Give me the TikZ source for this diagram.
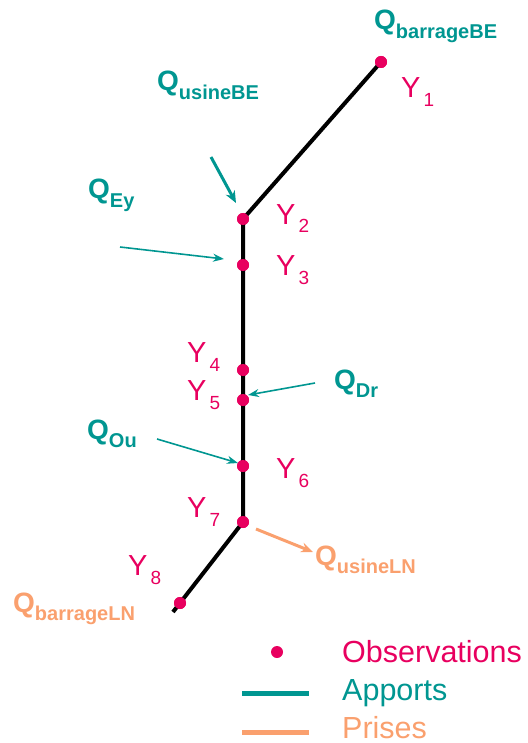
\documentclass[tikz,border=0pt]{standalone}
\usepackage{fontspec}
\setmainfont{Liberation Sans}
\usetikzlibrary{arrows.meta}
\definecolor{obs}{RGB}{232,0,95}
\definecolor{app}{RGB}{0,150,145}
\definecolor{pri}{RGB}{250,160,110}
\newcommand{\qlab}[1]{{\fontsize{28}{30}\selectfont\bfseries Q}\raisebox{-8.5pt}{\fontsize{20}{22}\selectfont\bfseries #1}}
\newcommand{\ylab}[1]{{\fontsize{29}{30}\selectfont Y}\hspace{3pt}\raisebox{-9pt}{\fontsize{19}{20}\selectfont #1}}
\begin{document}
\begin{tikzpicture}[x=1pt,y=-1pt,
  dotn/.style={circle,fill=obs,inner sep=0pt,minimum size=12pt},
  river/.style={line width=4pt,black},
  ylabn/.style={text=obs,anchor=base west,inner sep=0pt},
  qapp/.style={text=app,anchor=base west,inner sep=0pt},
  qpri/.style={text=pri,anchor=base west,inner sep=0pt},
  thinarr/.style={app,line width=1.6pt,-{Stealth[length=11pt,width=8pt]}},
  thickarr/.style={line width=3pt,-{Stealth[length=12pt,width=10pt]}},
  legtxt/.style={anchor=base west,inner sep=0pt,font=\fontsize{30.5}{32}\selectfont}]
\useasboundingbox (0,0) rectangle (527,743);
% observation points
\node[dotn] (y1) at (381,62) {};
\node[dotn] (y2) at (243,219) {};
\node[dotn] (y3) at (243,265) {};
\node[dotn] (y4) at (243,370) {};
\node[dotn] (y5) at (243,400) {};
\node[dotn] (y6) at (243,466) {};
\node[dotn] (y7) at (243,522) {};
\node[dotn] (y8) at (180,603) {};
\coordinate (lnend) at (173,612);
% river
\draw[river] (y1.center) -- (y2.center) -- (y3.center) -- (y4.center) -- (y5.center) -- (y6.center) -- (y7.center) -- (lnend);
\foreach \n in {y1,y2,y3,y4,y5,y6,y7,y8} \fill[obs] (\n) circle (6pt);
% Y labels
\node[ylabn] (ly1) at (401,98) {\ylab{1}};
\node[ylabn] (ly2) at (276,224) {\ylab{2}};
\node[ylabn] (ly3) at (276,275) {\ylab{3}};
\node[ylabn] (ly4) at (187,362) {\ylab{4}};
\node[ylabn] (ly5) at (187,400) {\ylab{5}};
\node[ylabn] (ly6) at (276,478) {\ylab{6}};
\node[ylabn] (ly7) at (187,517) {\ylab{7}};
\node[ylabn] (ly8) at (128,575) {\ylab{8}};
% Q labels
\node[qapp] (qbbe) at (374,30) {\qlab{barrageBE}};
\node[qapp] (qube) at (157,91) {\qlab{usineBE}};
\node[qapp] (qey) at (88,199) {\qlab{Ey}};
\node[qapp] (qdr) at (334,389) {\qlab{Dr}};
\node[qapp] (qou) at (87,439) {\qlab{Ou}};
\node[qpri] (quln) at (315,565) {\qlab{usineLN}};
\node[qpri] (qbln) at (13,612) {\qlab{barrageLN}};
% arrows
\coordinate (aubeS) at (211,157);
\coordinate (aubeE) at (236,203);
\draw[thickarr,app] (aubeS) -- (aubeE);
\coordinate (aeyS) at (120,247);
\coordinate (aeyE) at (224,259);
\draw[thinarr] (aeyS) -- (aeyE);
\coordinate (adrS) at (315,383);
\coordinate (adrE) at (248,395);
\draw[thinarr] (adrS) -- (adrE);
\coordinate (aouS) at (157,439);
\coordinate (aouE) at (238,463);
\draw[thinarr] (aouS) -- (aouE);
\coordinate (alnS) at (256,529);
\coordinate (alnE) at (313,552);
\draw[thickarr,pri] (alnS) -- (alnE);
% legend
\node[dotn] (legdot) at (277,652) {};
\node[legtxt,text=obs] (legobs) at (342,662) {Observations};
\coordinate (lapS) at (242,693);
\coordinate (lapE) at (309,693);
\draw[app,line width=5pt] (lapS) -- (lapE);
\node[legtxt,text=app] (legapp) at (342,700) {Apports};
\coordinate (lprS) at (242,732);
\coordinate (lprE) at (309,732);
\draw[pri,line width=5pt] (lprS) -- (lprE);
\node[legtxt,text=pri] (legpri) at (342,738) {Prises};
\end{tikzpicture}
\end{document}
